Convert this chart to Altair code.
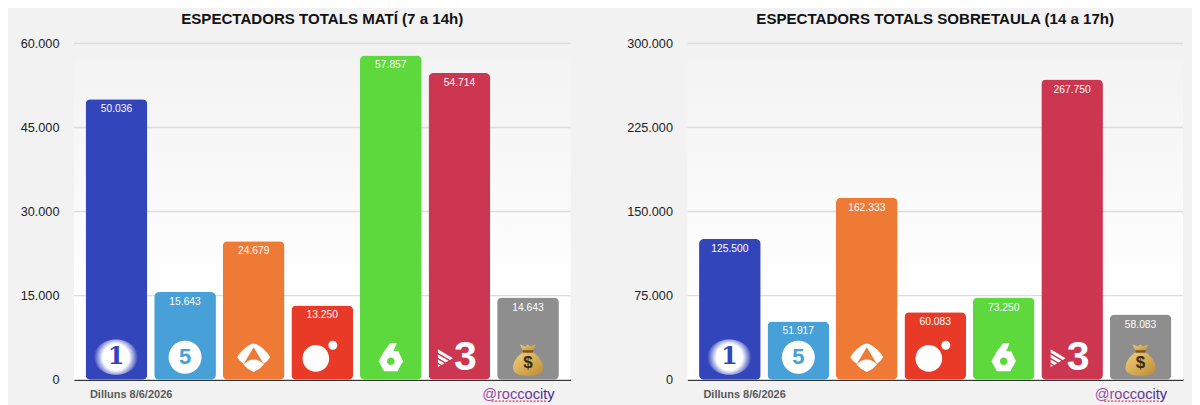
import math
import altair as alt
import pandas as pd

CHANNELS = ["La 1", "Telecinco", "Antena 3", "Cuatro", "laSexta", "TV3", "Altres"]
COLORS = ["#3345bb", "#47a0d8", "#ef7a36", "#e93a28", "#5dd93d", "#cc3650", "#8e8e8e"]
MATI = [50036, 15643, 24679, 13250, 57857, 54714, 14643]
SOBRETAULA = [125500, 51917, 162333, 60083, 73250, 267750, 58083]
TICKS_MATI = [0, 15000, 30000, 45000, 60000]
TICKS_SOBRETAULA = [0, 75000, 150000, 225000, 300000]
TITLE_MATI = "ESPECTADORS TOTALS MATÍ (7 a 14h)"
TITLE_SOBRETAULA = "ESPECTADORS TOTALS SOBRETAULA (14 a 17h)"
DATE_TEXT = "Dilluns 8/6/2026"
HANDLE = "@roccocity"

FONT = "Liberation Sans"
H = 336.5
ICON_Y = 314.0


def circle(cx, cy, r, sweep=1):
    return (f"M{cx - r},{cy}A{r},{r} 0 1,{sweep} {cx + r},{cy}"
            f"A{r},{r} 0 1,{sweep} {cx - r},{cy}Z")


def poly(points):
    return "M" + "L".join(f"{x:.3f},{y:.3f}" for x, y in points) + "Z"


ELLIPSE = "M-1,0A1,0.8 0 1,1 1,0A1,0.8 0 1,1 -1,0Z"
ANTENA = ("M-1,-.06Q-.7,-.6 -.12,-.88L.12,-.88Q.7,-.6 1,-.06Q.85,.2 .6,.34L0,-.66L-.6,.34Q-.85,.2 -1,-.06Z"
          "M-.62,.38Q0,-.22 .62,.38Q.35,.7 0,.84Q-.35,.7 -.62,.38Z")
CUATRO = circle(-.355, .07, .74) + circle(.59, -.667, .25)
SIX = (poly([(-.97, 0), (-.53, -.79), (-.05, -1.42), (.47, -1.42), (.2, -.79), (.6, -.79),
             (.97, 0), (.53, .79), (-.53, .79)]) + circle(0, 0, .3, sweep=0))


def stripe(y0, y1):
    a = (1.2 - y0) / 1.2
    b = (1.2 - y1) / 1.2
    return poly([(-1, y0), (-1 + a, y0 + .6 * a), (-1 + b, y1 + .6 * b), (-1, y1)])


STRIPES = stripe(-1.2, -.72) + stripe(-.5, -.05) + stripe(.17, .6) + stripe(.8, 1.1)
BAG = "M-.25,-.55C-.95,-.1 -1.05,.5 -.85,.75Q-.6,.97 0,.97Q.6,.97 .85,.75C1.05,.5 .95,-.1 .25,-.55Z"
EARS = "M-.3,-.55L-.5,-.98L-.15,-.85L0,-1L.12,-.85L.48,-.98L.3,-.55Z"
TIE = "M-.34,-.62L.34,-.62L.3,-.46L-.3,-.46Z"

RADIAL_WHITE = alt.RadialGradient(gradient="radial", stops=[
    alt.GradientStop(offset=0, color="#ffffff"),
    alt.GradientStop(offset=.6, color="#ffffff"),
    alt.GradientStop(offset=1, color="#3345bb")])
GOLD = alt.LinearGradient(gradient="linear", x1=0, y1=0, x2=1, y2=1, stops=[
    alt.GradientStop(offset=0, color="#f2d27a"),
    alt.GradientStop(offset=1, color="#bd8a34")])


def sym(channel, x_scale, path, px, fill, dx=0.0, dy=0.0):
    return (alt.Chart(alt.Data(values=[{"channel": channel}]))
            .mark_point(shape=path, size=px * px, filled=True, fill=fill, fillOpacity=1,
                        strokeOpacity=0, xOffset=dx, yOffset=dy)
            .encode(x=alt.X("channel:N", scale=x_scale, sort=CHANNELS), y=alt.value(ICON_Y)))


def txt(channel, x_scale, s, size, color, dx=0.0, dy=0.0, family=FONT, style="normal", weight="bold"):
    return (alt.Chart(alt.Data(values=[{"channel": channel, "s": s}]))
            .mark_text(fontSize=size, font=family, fontWeight=weight, fontStyle=style, color=color,
                       baseline="middle", align="center", dx=dx, dy=dy)
            .encode(x=alt.X("channel:N", scale=x_scale, sort=CHANNELS), y=alt.value(ICON_Y), text="s:N"))


def icons(sc):
    return [
        sym("La 1", sc, ELLIPSE, 44, RADIAL_WHITE, dx=-.5),
        txt("La 1", sc, "1", 24, "#3345bb", dx=-.5, family="DejaVu Serif"),
        sym("Telecinco", sc, circle(0, 0, 1), 33, "#ffffff"),
        txt("Telecinco", sc, "5", 22, "#47a0d8"),
        sym("Antena 3", sc, ANTENA, 33, "#ffffff", dy=1),
        sym("Cuatro", sc, CUATRO, 36, "#ffffff"),
        sym("laSexta", sc, SIX, 25.3, "#ffffff", dy=4),
        txt("TV3", sc, "3", 41, "#ffffff", dx=6, dy=1),
        sym("TV3", sc, STRIPES, 15, "#ffffff", dx=-14, dy=1),
        sym("Altres", sc, BAG, 32, GOLD, dy=3),
        sym("Altres", sc, EARS, 32, GOLD, dy=3),
        sym("Altres", sc, TIE, 32, "#7a5320", dy=3),
        txt("Altres", sc, "$", 17, "#3a2a12", dy=6),
    ]


def panel(values, ticks, title, width):
    df = pd.DataFrame({"channel": CHANNELS, "value": values, "c": COLORS})
    df["label"] = [f"{v:,}".replace(",", ".") for v in values]
    x_scale = alt.Scale(domain=CHANNELS, paddingInner=.1, paddingOuter=.17)
    y_scale = alt.Scale(domain=[0, ticks[-1]], nice=False)

    x = alt.X("channel:N", scale=x_scale, sort=CHANNELS, title=None,
              axis=alt.Axis(labels=False, ticks=False, domainColor="#333333", domainWidth=1.6,
                            grid=False, title=None))
    y = alt.Y("value:Q", scale=y_scale, title=None,
              axis=alt.Axis(values=ticks, grid=False, ticks=False, domain=False, labelFont=FONT,
                            labelFontSize=12.7, labelColor="#222222", labelPadding=15, minExtent=54,
                            maxExtent=54,
                            labelExpr="replace(format(datum.value, ',d'), ',', '.')"))

    bg = (alt.Chart(alt.Data(values=[{"a": 0}]))
          .mark_rect(color=alt.LinearGradient(
              gradient="linear", x1=0, y1=0, x2=0, y2=1,
              stops=[alt.GradientStop(offset=0, color="#f3f3f3"),
                     alt.GradientStop(offset=.75, color="#ffffff"),
                     alt.GradientStop(offset=1, color="#ffffff")]))
          .encode(x=alt.value(0), x2=alt.value(width), y=alt.value(16), y2=alt.value(H)))
    grid = (alt.Chart(pd.DataFrame({"value": ticks[1:]}))
            .mark_rule(color="#dcdcdc", strokeWidth=1.4)
            .encode(y=y))
    bars = (alt.Chart(df).mark_bar(cornerRadius=5)
            .encode(x=x, y=y, color=alt.Color("c:N", scale=None, legend=None)))
    labels = (alt.Chart(df)
              .mark_text(color="#ffffff", font=FONT, fontSize=10.3, baseline="middle", dy=10)
              .encode(x=x, y=y, text="label:N"))
    date = (alt.Chart(alt.Data(values=[{"s": DATE_TEXT}]))
            .mark_text(font=FONT, fontSize=11, fontWeight="bold", color="#5a5a5a", align="left",
                       baseline="middle")
            .encode(x=alt.value(16), y=alt.value(H + 15), text="s:N"))
    handle = (alt.Chart(alt.Data(values=[{"s": HANDLE}]))
              .mark_text(font=FONT, fontSize=14.6, align="right", baseline="middle",
                         fill=alt.LinearGradient(
                             gradient="linear", x1=0, y1=0, x2=1, y2=0,
                             stops=[alt.GradientStop(offset=0, color="#a94fa8"),
                                    alt.GradientStop(offset=1, color="#3f2390")]))
              .encode(x=alt.value(width - 16), y=alt.value(H + 15), text="s:N"))
    under = (alt.Chart(alt.Data(values=[{"a": 0}]))
             .mark_rule(color="#e2334a", strokeWidth=1.2, strokeDash=[2, 1.5])
             .encode(x=alt.value(width - 79), x2=alt.value(width - 24), y=alt.value(H + 21.5)))

    return alt.layer(bg, grid, bars, labels, *icons(x_scale), date, handle, under).properties(
        width=width, height=H,
        title=alt.TitleParams(text=title, font=FONT, fontSize=15.1, fontWeight="bold", color="#111111",
                              anchor="middle", offset=10.8))


left = panel(MATI, TICKS_MATI, TITLE_MATI, 497)
right = panel(SOBRETAULA, TICKS_SOBRETAULA, TITLE_SOBRETAULA, 496)

chart = (alt.hconcat(left, right, spacing=55)
         .properties(background="#f2f2f2",
                     padding={"left": 12, "top": 3.3, "right": 8, "bottom": 4})
         .configure_view(stroke=None))
chart.save("out.html", embed_options={"renderer": "svg", "actions": False})
